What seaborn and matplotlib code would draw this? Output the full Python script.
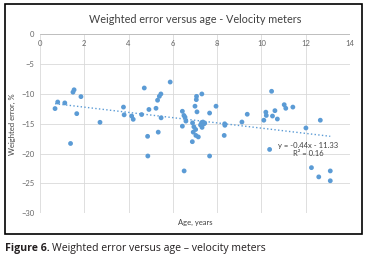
import numpy as np
import pandas as pd
import matplotlib
matplotlib.use("Agg")
import matplotlib.pyplot as plt
import seaborn as sns
from matplotlib.patches import Rectangle

# valeurs
ages = [0.68, 0.80, 1.12, 1.38, 1.49, 1.54, 1.66, 1.85, 2.71, 3.77,
        3.80, 4.14, 4.21, 4.59, 4.71, 4.86, 4.87, 4.92, 5.24, 5.31,
        5.34, 5.39, 5.46, 5.47, 5.88, 6.43, 6.43, 6.50, 6.51, 6.55,
        6.59, 6.88, 6.89, 6.92, 6.95, 7.00, 7.03, 7.04, 7.06, 7.07,
        7.09, 7.15, 7.25, 7.30, 7.31, 7.32, 7.36, 7.40, 7.44, 7.66,
        7.66, 7.95, 8.32, 8.34, 8.35, 9.12, 9.36, 10.11, 10.20, 10.22,
        10.37, 10.46, 10.50, 10.61, 10.72, 11.03, 11.10, 11.42, 12.01, 12.26,
        12.59, 12.66, 13.11, 13.11]
errors = [-12.45, -11.35, -11.5, -18.3, -9.7, -9.3, -13.3, -10.45, -14.75, -12.2,
          -13.5, -13.7, -14.25, -13.45, -9.0, -17.1, -20.4, -12.6, -12.4, -11.05,
          -16.4, -10.4, -10.0, -14.0, -8.0, -12.9, -15.4, -13.6, -22.9, -13.9,
          -14.55, -18.0, -14.85, -16.4, -15.5, -12.05, -15.95, -16.95, -10.95, -10.4,
          -13.0, -17.2, -15.2, -14.8, -10.0, -15.6, -14.7, -15.0, -14.9, -13.2,
          -20.4, -12.05, -16.95, -15.0, -15.25, -14.7, -13.4, -14.4, -13.05, -13.6,
          -19.3, -9.55, -13.7, -12.8, -14.2, -11.8, -12.4, -12.2, -15.7, -22.35,
          -23.9, -14.4, -22.9, -24.55]
slope = -0.44
intercept = -11.33
r2 = 0.16

df = pd.DataFrame({'Age': ages, 'Erreur': errors})

sns.set_style("white")
plt.rcParams['font.family'] = ['Lato', 'DejaVu Sans']

fig = plt.figure(figsize=(3.72, 2.61), dpi=100)
ax = fig.add_axes([0.1075, 0.1828, 0.8333, 0.6858])

bleu = '#5B9BD5'
sns.scatterplot(x='Age', y='Erreur', data=df, ax=ax, color=bleu, s=12,
                edgecolor='none', zorder=3)

# courbe de tendance
lx = np.array([min(ages), max(ages)])
ax.plot(lx, slope * lx + intercept, linestyle=':', color=bleu, lw=1.0, zorder=2)
ax.text(12.1, -18.6, 'y = -0.44x - 11.33', fontsize=5.5, color='#404040',
        ha='center', va='center')
ax.text(12.1, -20.0, 'R² = 0.16', fontsize=5.5, color='#404040',
        ha='center', va='center')

ax.set_xlim(0, 14)
ax.set_ylim(-30, 0)
ax.set_xticks(range(0, 15, 2))
ax.set_yticks(range(-30, 1, 5))
ax.xaxis.tick_top()
ax.tick_params(length=0, labelsize=5.5, labelcolor='#666666')
ax.tick_params(axis='x', pad=-9.5)
ax.tick_params(axis='y', pad=4)
ax.grid(True, color='#d9d9d9', lw=0.6)
ax.set_axisbelow(True)
for s in ax.spines.values():
    s.set_visible(False)
ax.axhline(0, color='#bfbfbf', lw=0.7, zorder=1)
ax.set_xlabel('Age, years', fontsize=5.5, color='#404040')
ax.set_ylabel('Weighted error, %', fontsize=5.5, color='#404040', labelpad=4)
ax.xaxis.set_label_position('bottom')

fig.text(0.524, 0.927, 'Weighted error versus age - Velocity meters',
         fontsize=7.8, color='#404040', ha='center', va='center')

# cadre noir
fig.patches.append(Rectangle((0.0134, 0.1034), 0.96, 0.881, transform=fig.transFigure,
                             fill=False, edgecolor='black', lw=1.2))

# légende de la figure
t1 = fig.text(0.0134, 0.048, 'Figure 6.', fontsize=7.6, fontweight='bold',
              color='#231f20', va='center', family=['Open Sans', 'DejaVu Sans'])
fig.canvas.draw()
bb = t1.get_window_extent()
x2 = (bb.x1 + 2) / fig.bbox.width
fig.text(x2, 0.048, 'Weighted error versus age – velocity meters', fontsize=7.6,
         color='#231f20', va='center', family=['Open Sans', 'DejaVu Sans'])

plt.savefig('out.png', dpi=100)
